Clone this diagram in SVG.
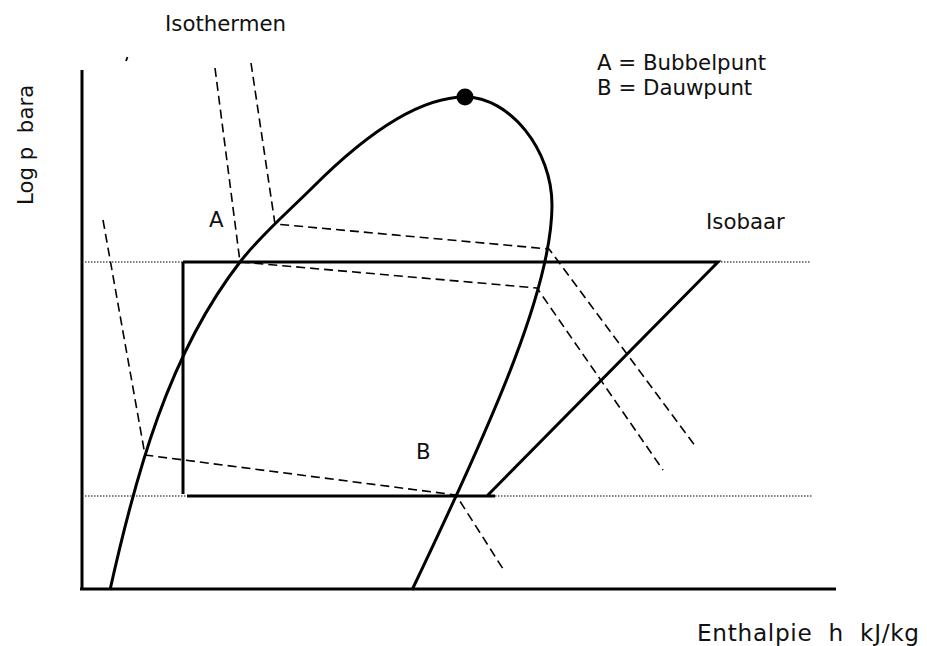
<svg xmlns="http://www.w3.org/2000/svg" width="927" height="646" viewBox="0 0 927 646">
<style>
.thick{fill:none;stroke:#000;stroke-width:3;stroke-linecap:butt;stroke-linejoin:miter}
.dash{fill:none;stroke:#000;stroke-width:1.6;stroke-dasharray:9 5}
.dot{fill:none;stroke:#000;stroke-width:1.2;stroke-dasharray:1.5 1.5}
.lbl{font-family:"DejaVu Sans","Verdana",sans-serif;font-size:21.3px;fill:#111;white-space:pre}
</style>
<rect width="927" height="646" fill="#fff"/>
<g id="axes">
<path class="thick" d="M82,70 V590 M80,589 H836"/>
<path d="M126,61 L127.5,57" stroke="#000" stroke-width="1.8"/>
</g>
<g id="dome">
<path class="thick" d="M110,590 C135.7,474.8 168,355 240,262 C261.4,234.4 288.3,211.7 313,187 C348.4,151.6 410,97 465,97 C510,97 552,150 552,205 C552,285 498.2,409.6 412,590"/>
<circle id="critical-point" cx="465" cy="97" r="8.5" fill="#000"/>
</g>
<g id="connectors">
<g id="isobars">
<path class="dot" d="M85,262 H183 M718,262 H810 M85,496 H186 M495,496 H813"/>
<path class="thick" d="M183,262 H718 L487,496 M183,262 V494 M187,496 H495"/>
</g>
<g id="isotherms">
<path class="dash" d="M103,220 L145,455 L456,495 L505,572"/>
<path class="dash" d="M215,68 L240,262 L537,288 L663,470"/>
<path class="dash" d="M251,63 L275,224 L549,249 L696,447"/>
</g>
</g>
<g id="labels">
<text class="lbl" x="165" y="31">Isothermen</text>
<text class="lbl" x="597" y="70">A = Bubbelpunt</text>
<text class="lbl" x="597" y="95">B = Dauwpunt</text>
<text class="lbl" x="209" y="227">A</text>
<text class="lbl" x="416" y="459">B</text>
<text class="lbl" x="706" y="229">Isobaar</text>
<text class="lbl" x="697" y="641" style="font-size:23.2px" textLength="222" lengthAdjust="spacing">Enthalpie  h  kJ/kg</text>
<text class="lbl" transform="translate(33,205) rotate(-90)">Log p  bara</text>
</g>
</svg>
